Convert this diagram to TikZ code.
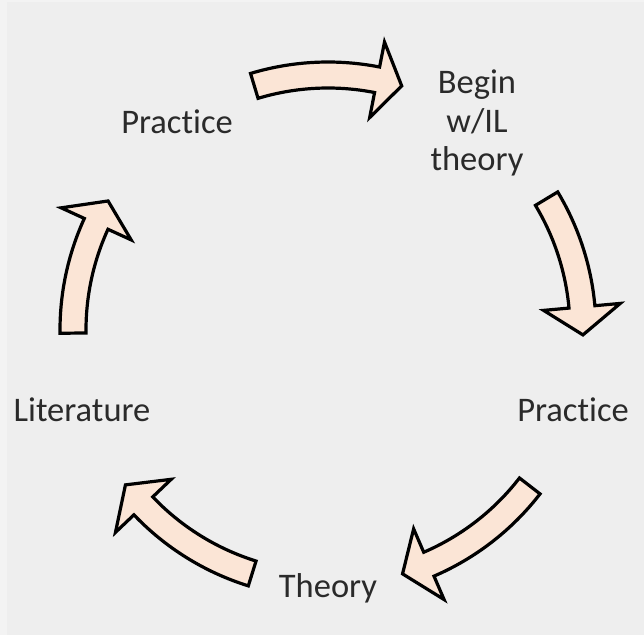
\documentclass[tikz,border=0pt]{standalone}
\usepackage{fontspec}
\setmainfont{Carlito}[Ligatures=NoCommon]
\definecolor{bgc}{HTML}{EEEEEE}
\definecolor{bgl}{HTML}{F3F3F3}
\definecolor{peach}{HTML}{FBE5D6}
\definecolor{txt}{HTML}{2A2A2A}
\newcommand\blockarrow[3]{%
  \draw[arrowshape] (#1:268) arc[start angle=#1, end angle=#2, radius=268]
    -- (#2:293.5) -- (#3:255) -- (#2:216.5) -- (#2:242)
    arc[start angle=#2, end angle=#1, radius=242] -- cycle;}
\begin{document}
\begin{tikzpicture}[x=1pt,y=1pt,
  arrowshape/.style={draw=black, line width=3.2pt, line join=miter, fill=peach},
  lbl/.style={text=txt, font=\fontsize{34.5}{38.5}\selectfont, align=center, inner sep=0pt}]
\useasboundingbox (-328,-305) rectangle (316,330);
\fill[bgc] (-328,-305) rectangle (316,330);
\fill[bgl] (-328,-305) rectangle (-321,330);
\fill[bgl] (-328,328) rectangle (316,330);
% labels
\node[lbl] (begin) at (149,207) {Begin\\w/IL\\theory};
\node[lbl] (practiceR) at (245,-80) {Practice};
\node[lbl] (theory) at (0,-258) {Theory};
\node[lbl] (literature) at (-246,-80) {Literature};
\node[lbl] (practiceL) at (-151,208) {Practice};
% arrows
\blockarrow{106.8}{78.9}{73.2}
\blockarrow{31}{5.2}{-1.1}
\blockarrow{-37.7}{-66.7}{-73}
\blockarrow{-107.3}{-136.4}{-142.6}
\blockarrow{180.7}{155.4}{149.6}
\end{tikzpicture}
\end{document}
